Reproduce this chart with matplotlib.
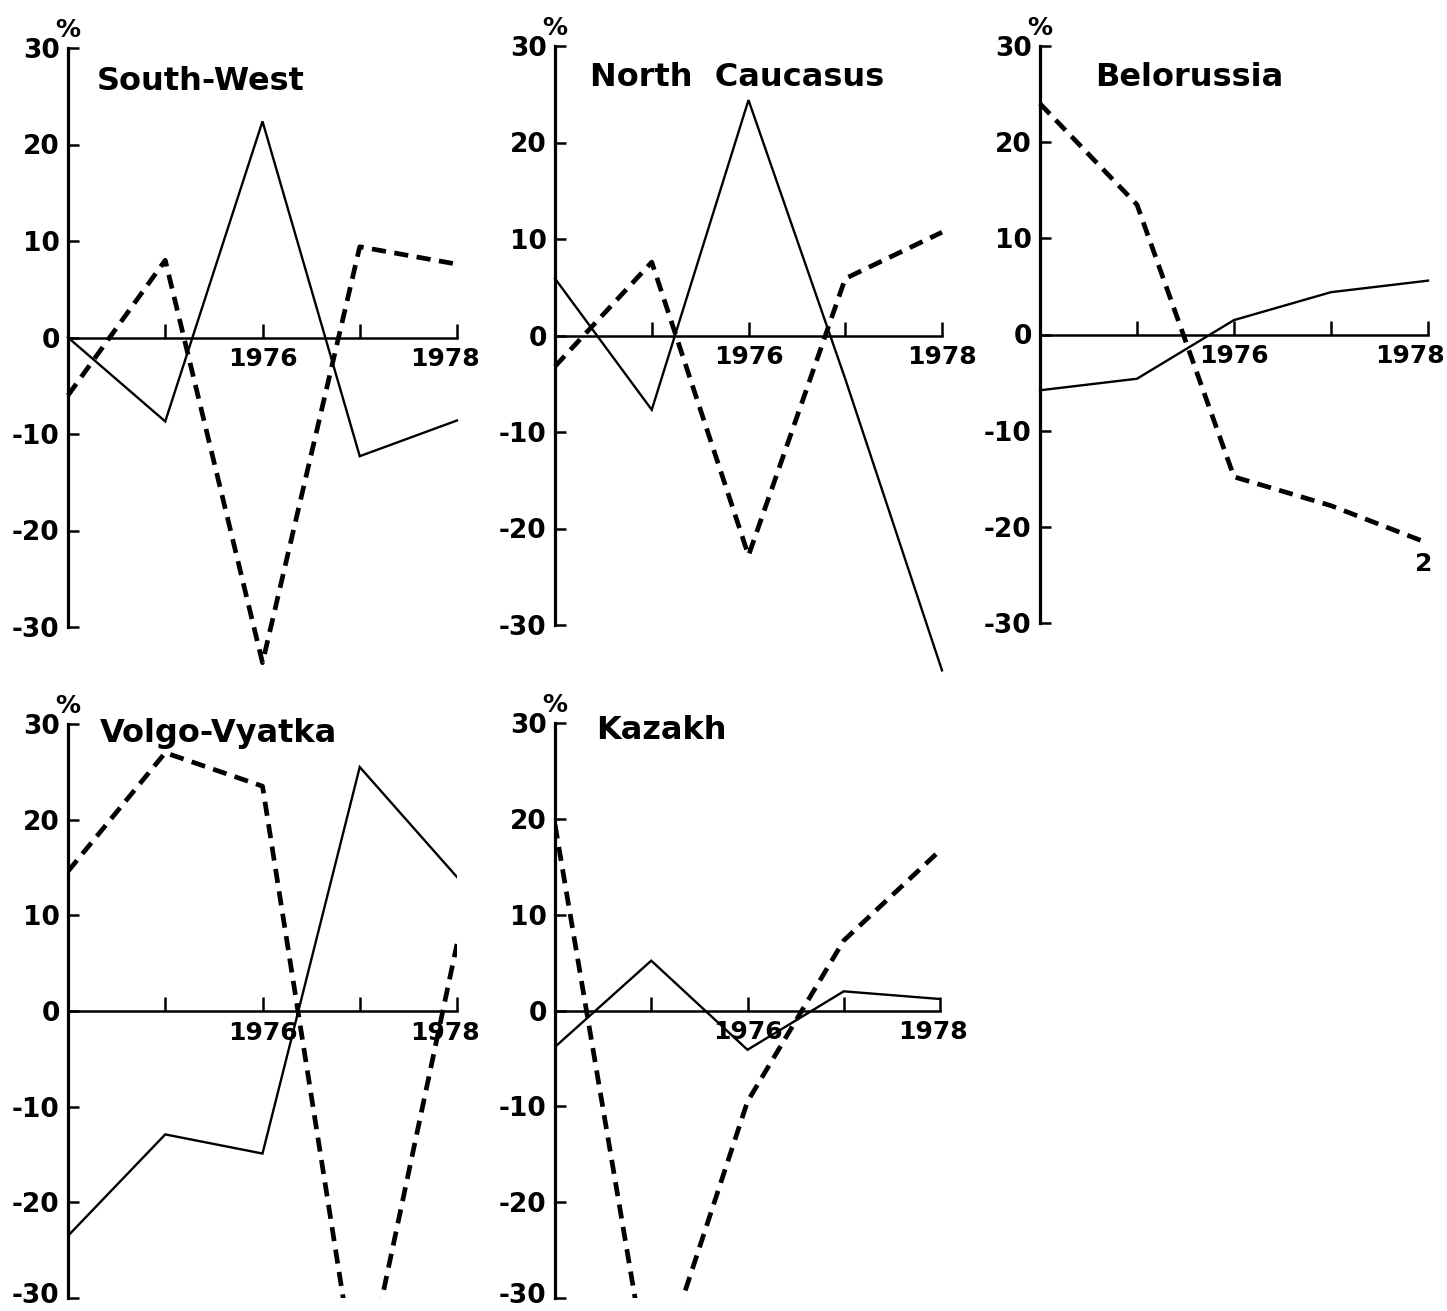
import matplotlib
matplotlib.use("Agg")
import matplotlib.pyplot as plt
from matplotlib.transforms import ScaledTranslation

plt.rcParams['font.family'] = ['DejaVu Sans']

years = [1974, 1975, 1976, 1977, 1978]
year_labels = ["", "1976", "", "1978"]
y_ticks = [-30, -20, -10, 0, 10, 20, 30]
y_labels = ["-30", "-20", "-10", "0", "10", "20", "30"]

regions = ["South-West", "North  Caucasus", "Belorussia", "Volgo-Vyatka", "Kazakh"]

sw_solid = [0, -8.7, 22.4, -12.3, -8.6]
sw_dashed = [-6.0, 8.0, -33.7, 9.4, 7.6]
nc_solid = [5.9, -7.7, 24.4, -4.5, -34.7]
nc_dashed = [-3.2, 7.6, -22.8, 5.9, 10.7]
be_solid = [-5.8, -4.6, 1.5, 4.4, 5.6]
be_dashed = [24.0, 13.5, -14.8, -17.8, -21.7]
vv_solid = [-23.5, -12.9, -14.9, 25.5, 14.0]
vv_dashed = [14.6, 27.0, 23.5, -41.0, 7.0]
kz_solid = [-3.8, 5.2, -4.1, 2.0, 1.2]
kz_dashed = [19.4, -40.0, -9.5, 7.3, 16.7]

solids = [sw_solid, nc_solid, be_solid, vv_solid, kz_solid]
dasheds = [sw_dashed, nc_dashed, be_dashed, vv_dashed, kz_dashed]

W, H = 1447, 1311
fig = plt.figure(figsize=(W / 100, H / 100), dpi=100)

# pixel geometry of each panel: (x of 1974, x of 1978, y of +30, y of -30)
boxes = [
    (68, 457, 48, 627),
    (555, 942, 46, 625),
    (1040, 1428, 46, 623),
    (68, 457, 724, 1298),
    (555, 940, 723, 1298),
]
title_pos = [(1974.30, 26.5), (1974.36, 26.7), (1974.57, 26.7), (1974.33, 29.0), (1974.43, 29.2)]
shift_1978 = [-12, 0, -18, -12, -7]

for i, (x0, x1, yt, yb) in enumerate(boxes):
    ax = fig.add_axes([x0 / W, 1 - yb / H, (x1 - x0) / W, (yb - yt) / H])
    ax.set_xlim(1974, 1978)
    ax.set_ylim(-30, 30)
    ax.patch.set_visible(False)
    for s in ['top', 'right']:
        ax.spines[s].set_visible(False)
    ax.spines['left'].set_linewidth(2.3)
    ax.spines['bottom'].set_position(('data', 0))
    ax.spines['bottom'].set_linewidth(1.8)

    ax.set_xticks(years[1:])
    ax.set_xticklabels(year_labels)
    ax.set_yticks(y_ticks)
    ax.set_yticklabels(y_labels)
    ax.tick_params(axis='x', direction='in', length=10, width=1.8, pad=7,
                   labelsize=18)
    ax.tick_params(axis='y', direction='in', length=8, width=1.8, pad=6,
                   labelsize=19)
    for lab in ax.get_xticklabels() + ax.get_yticklabels():
        lab.set_fontweight('bold')
    xl = ax.get_xticklabels()[3]
    xl.set_transform(xl.get_transform() +
                     ScaledTranslation(shift_1978[i] / 100, 0, fig.dpi_scale_trans))
    if i >= 3:
        yl = ax.get_yticklabels()[0]
        yl.set_transform(yl.get_transform() +
                         ScaledTranslation(0, 5 / 100, fig.dpi_scale_trans))

    clip = i >= 3
    ax.plot(years, solids[i], color='black', lw=1.7, clip_on=clip,
            solid_joinstyle='miter')
    ax.plot(years, dasheds[i], color='black', lw=3.4, dashes=(3.0, 1.8),
            dash_capstyle='butt', clip_on=clip)

    tx, ty = title_pos[i]
    ax.text(tx, ty, regions[i], fontsize=23, fontweight='bold', ha='left',
            va='center')
    ax.text(1974, 30.6, '%', fontsize=18, fontweight='bold', ha='center',
            va='bottom', clip_on=False)
    if i == 2:
        ax.text(1977.96, -23.9, '2', fontsize=18, fontweight='bold',
                ha='center', va='center')

fig.savefig('out.png', dpi=100)
